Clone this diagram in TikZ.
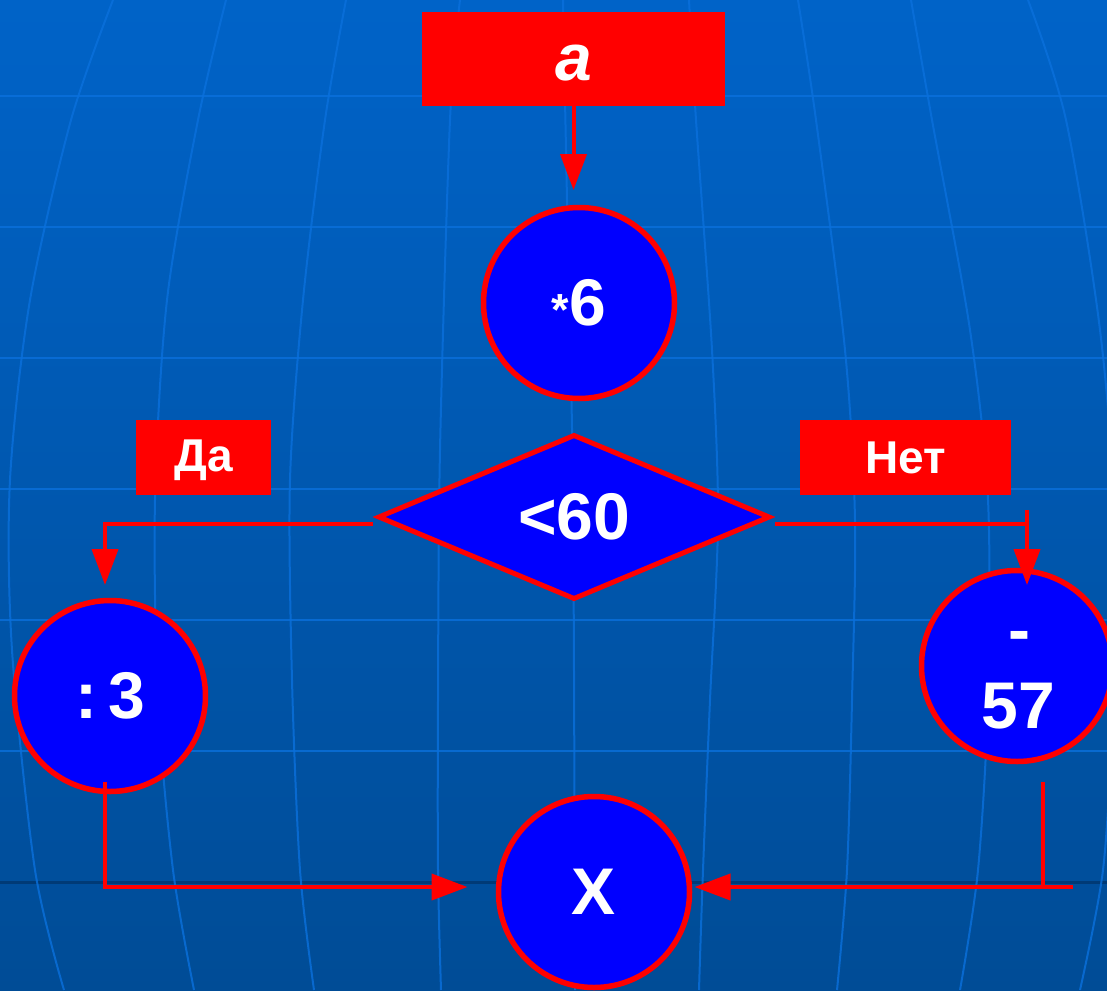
\documentclass[tikz,border=0pt]{standalone}
\usepackage{fontspec}
\setmainfont{Liberation Sans}
\usetikzlibrary{shapes.geometric,arrows.meta}
\definecolor{bgtop}{RGB}{0,99,200}
\definecolor{bgbot}{RGB}{0,76,150}
\definecolor{gridc}{RGB}{10,112,220}
\definecolor{darkline}{RGB}{0,58,118}
\definecolor{myred}{RGB}{255,0,0}
\definecolor{myblue}{RGB}{0,0,255}
\tikzset{
  grid line/.style={draw=gridc,line width=2pt,opacity=0.8},
  redbox/.style={rectangle,fill=myred,inner sep=0,outer sep=0,text=white,font=\bfseries},
  opcircle/.style={circle,draw=myred,fill=myblue,line width=5.5pt,minimum size=191pt,inner sep=0,outer sep=0,text=white,font=\fontsize{66}{76}\selectfont\bfseries},
  decision/.style={diamond,draw=myred,fill=myblue,line width=5pt,minimum width=390pt,minimum height=163pt,inner sep=0,outer sep=0,text=white,font=\fontsize{66}{76}\selectfont\bfseries},
  conn/.style={draw=myred,line width=4pt},
  arr/.style={conn,-{Triangle[length=36pt,width=26pt]}},
  txt/.style={text=white,inner sep=0,font=\fontsize{66}{76}\selectfont\bfseries}
}
\begin{document}
\begin{tikzpicture}[x=1pt,y=-1pt]
\useasboundingbox (0,0) rectangle (1107,990);
\begin{scope}
\clip (0,0) rectangle (1107,990);
\shade[top color=bgtop,bottom color=bgbot] (0,0) rectangle (1107,990);
% parallels
\foreach \yy in {96,227,358,489,620,751}{
  \draw[grid line] (0,\yy) -- (1107,\yy);
}
\draw[draw=darkline,line width=3pt] (0,882) -- (1107,882);
% meridians
\draw[grid line] plot[smooth] coordinates {(113,0) (71,120) (30,300) (10,480) (12,650) (35,870) (64,990)};
\draw[grid line] plot[smooth] coordinates {(226,0) (198,120) (167,300) (155,500) (158,700) (173,870) (194,990)};
\draw[grid line] plot[smooth] coordinates {(346,0) (325,120) (303,300) (290,480) (292,680) (300,870) (314,990)};
\draw[grid line] plot[smooth] coordinates {(460,0) (450,120) (440,450) (438,700) (438,870) (441,990)};
\draw[grid line] plot[smooth] coordinates {(563,0) (567,200) (573,500) (575,990)};
\draw[grid line] plot[smooth] coordinates {(689,0) (696,120) (712,350) (718,520) (710,700) (703,870) (699,990)};
\draw[grid line] plot[smooth] coordinates {(798,0) (816,120) (845,350) (855,520) (852,700) (847,870) (837,990)};
\draw[grid line] plot[smooth] coordinates {(911,0) (932,120) (970,330) (988,500) (988,700) (978,870) (960,990)};
\draw[grid line] plot[smooth] coordinates {(1028,0) (1066,120) (1100,330) (1115,520) (1112,720) (1103,870) (1080,990)};
\end{scope}

% boxes
\node[redbox,minimum width=303pt,minimum height=94pt,font=\fontsize{66}{76}\selectfont\bfseries\itshape] (a) at (573.5,59) {\raisebox{-21pt}[0pt][0pt]{a}};
\node[redbox,minimum width=135pt,minimum height=75pt,font=\fontsize{46}{50}\selectfont\bfseries] (da) at (203.5,457.5) {\raisebox{-13.5pt}[0pt][0pt]{Да}};
\node[redbox,minimum width=211pt,minimum height=75pt,font=\fontsize{46}{50}\selectfont\bfseries] (net) at (905.5,457.5) {\raisebox{-15.5pt}[0pt][0pt]{Нет}};

% operation nodes
\node[opcircle] (c6) at (579,303) {{\fontsize{45}{50}\selectfont *}6};
\node[decision] (d) at (574,517) {<60};
\node[opcircle] (c3) at (110,696) {:\,3};
\node[opcircle] (c57) at (1017,666) {};
\node[txt,anchor=base] (c57a) at (1019,652) {-};
\node[txt,anchor=base] (c57b) at (1018,728) {57};
\node[opcircle] (cx) at (594,892) {X};

% connectors
\draw[arr,shorten >=17.5pt] (a.south) -- (a.south |- c6.north);
\draw[arr] ([xshift=-6pt,yshift=-7pt]d.west) -| ([xshift=-5pt,yshift=15.5pt]c3.north);
\coordinate (rc) at (1027,524);
\coordinate (rt) at (1027,510);
\draw[conn] ([xshift=6pt,yshift=-7pt]d.east) -- (rc);
\draw[arr] (rt) -- ([xshift=10pt,yshift=-14.5pt]c57.north);
\draw[arr,shorten >=31pt] ([xshift=-5pt,yshift=-86pt]c3.center) |- ([yshift=5pt]cx.west);
\coordinate (rb) at (1043,887);
\coordinate (rr) at (1073,887);
\draw[conn] ([xshift=26pt,yshift=-116pt]c57.center) -- (rb);
\draw[arr,shorten >=5pt] (rr) -- ([yshift=5pt]cx.east);
\end{tikzpicture}
\end{document}
